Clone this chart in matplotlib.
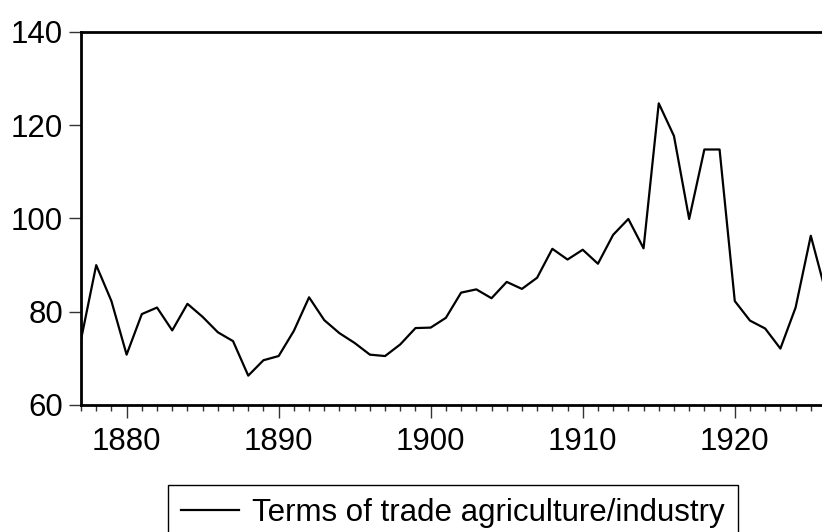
import matplotlib
matplotlib.use('Agg')
import matplotlib.pyplot as plt
from matplotlib.ticker import MultipleLocator

plt.rcParams['font.family'] = ['Liberation Sans', 'DejaVu Sans']

years = list(range(1877, 1927))
tot = [74.0, 90.0, 82.3, 70.8, 79.5, 80.9, 76.0, 81.7, 78.9, 75.6,
       73.7, 66.3, 69.6, 70.5, 75.9, 83.1, 78.2, 75.4, 73.3, 70.8,
       70.5, 73.0, 76.5, 76.6, 78.7, 84.1, 84.8, 82.9, 86.4, 84.9,
       87.3, 93.5, 91.2, 93.3, 90.3, 96.5, 99.9, 93.6, 124.7, 117.7,
       99.9, 114.8, 114.8, 82.3, 78.1, 76.4, 72.1, 80.9, 96.3, 84.0]
yticks = [60, 80, 100, 120, 140]
xticks = [1880, 1890, 1900, 1910, 1920]
label = 'Terms of trade agriculture/industry'

fig = plt.figure(figsize=(8.22, 5.32), dpi=100)
ax = fig.add_axes([81 / 822, 1 - 405 / 532, 745 / 822, 373 / 532])

line, = ax.plot(years, tot, color='black', linewidth=1.6)

ax.set_xlim(1877, 1926)
ax.set_ylim(60, 140)
ax.set_yticks(yticks)
ax.set_xticks(xticks)
ax.xaxis.set_minor_locator(MultipleLocator(1))

for s in ax.spines.values():
    s.set_linewidth(2.0)

ax.tick_params(axis='both', which='major', labelsize=22.5, color='#333333', width=1.0)
ax.tick_params(axis='y', length=9, pad=4)
ax.tick_params(axis='x', which='major', length=9, pad=7)
ax.tick_params(axis='x', which='minor', length=4.5, width=1.0, color='#333333')

fig.legend([line], [label], loc='upper left',
           bbox_to_anchor=(168 / 822, 1 - 485 / 532),
           fontsize=22.5, frameon=True, fancybox=False, edgecolor='black',
           framealpha=1, borderpad=0.42, handlelength=1.85,
           handletextpad=0.42, borderaxespad=0)

fig.savefig('out.png', dpi=100)
